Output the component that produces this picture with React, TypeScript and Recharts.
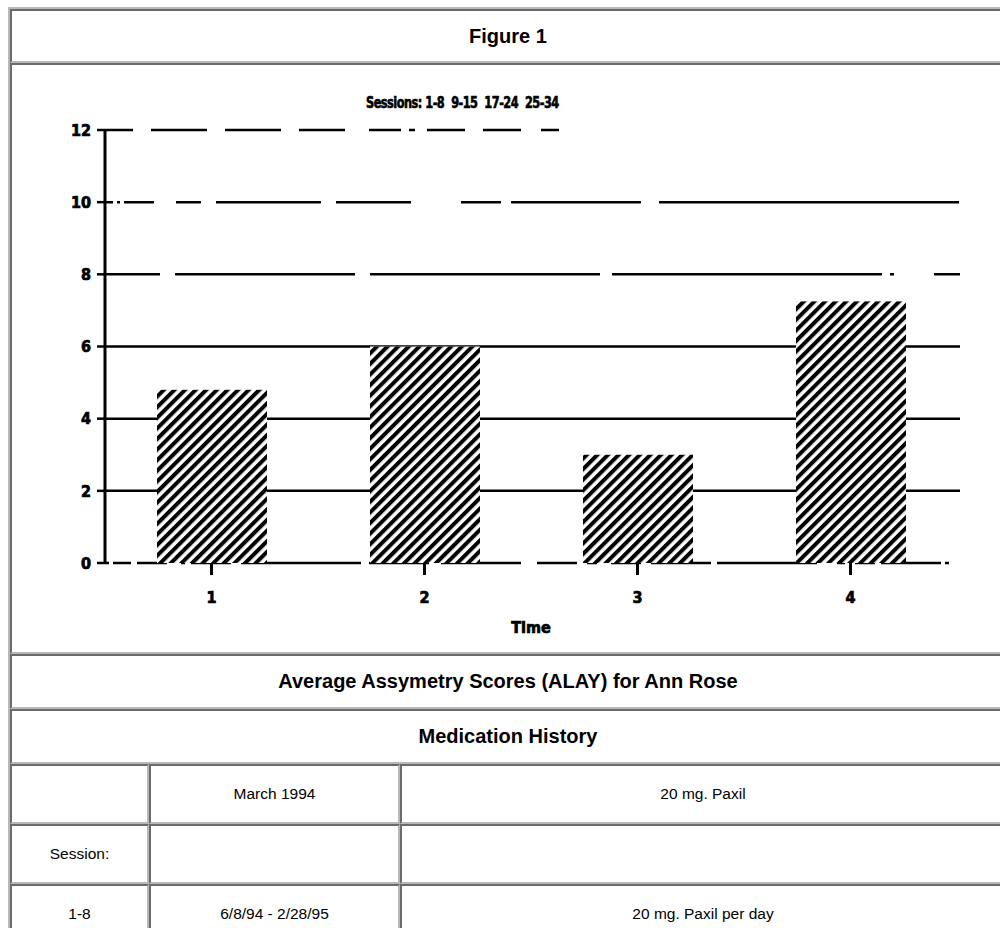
import React from 'react';
import { BarChart, Bar, XAxis, YAxis, CartesianGrid, Label } from 'recharts';

const times = ['1', '2', '3', '4'];
const scores = [4.8, 6.0, 3.0, 7.25];
const yTicks = [0, 2, 4, 6, 8, 10, 12];
const sessionsTitle = 'Sessions: 1-8  9-15  17-24  25-34';

const figureTitle = 'Figure 1';
const captionTitle = 'Average Assymetry Scores (ALAY) for Ann Rose';
const historyTitle = 'Medication History';
const historyRows = [
  ['', 'March 1994', '20 mg. Paxil'],
  ['Session:', '', ''],
  ['1-8', '6/8/94 - 2/28/95', '20 mg. Paxil per day'],
];

const data = times.map((t, i) => ({ time: t, score: scores[i] }));

// each grid line in the scan has its own broken dash look
const gridDash: Record<number, string | undefined> = {
  0: '4 4 18 6 30 14 4 6 40 10 120 8 60 12 80 16 40 10 10 14 30 10 60 6 100 20 8 10 20 6 60',
  2: undefined,
  4: undefined,
  6: undefined,
  8: '55 15 180 15 230 12 270 8 4 40 30',
  10: '8 4 3 4 30 22 25 15 105 15 75 50 40 10 130 18 300',
  12: '28 18 56 18 56 18 46 24 32 8 6 12 38 18 38 20 18 2000',
};

const font = "'DejaVu Sans Condensed', 'Liberation Sans Narrow', 'DejaVu Sans', sans-serif";
const htmlFont = "'Liberation Sans', Arial, sans-serif";
const dark = '#6b6b6b';
const light = '#b8b8b8';
const tickStyle = { fill: '#000', stroke: '#000', strokeWidth: 0.7, fontSize: 16, fontWeight: 900, fontFamily: font };

const GridLine = (props: any) => {
  const { x1, x2, y1, y, height, index } = props;
  const v = typeof y === 'number' && typeof height === 'number'
    ? Math.round((12 * (y + height - y1)) / height)
    : yTicks[index];
  return (
    <line
      x1={x1}
      x2={x2 + 3}
      y1={y1}
      y2={y1}
      stroke="#000"
      strokeWidth={2.5}
      strokeDasharray={gridDash[v]}
    />
  );
};

const HatchBar = (props: any) => {
  const { x, y, width, height } = props;
  return (
    <g>
      <rect x={x} y={y} width={width} height={height} fill="#fff" />
      <rect x={x} y={y} width={width} height={height} fill="url(#hatch)" />
    </g>
  );
};

const cell = (x: number, y: number, w: number, h: number): React.CSSProperties => ({
  position: 'absolute',
  left: x,
  top: y,
  width: w,
  height: h,
  boxSizing: 'border-box',
  borderTop: `2px solid ${dark}`,
  borderLeft: `2px solid ${dark}`,
  borderBottom: `2px solid ${light}`,
  borderRight: `2px solid ${light}`,
  display: 'flex',
  alignItems: 'center',
  justifyContent: 'center',
  fontFamily: htmlFont,
  color: '#000',
});

const heading: React.CSSProperties = { fontWeight: 'bold', fontSize: 20 };
const small: React.CSSProperties = { fontSize: 15.5 };

const colX = [10, 149, 400, 1006];
const rowTops = [764, 824, 884, 944];

export default function App() {
  return (
    <div style={{ position: 'absolute', left: 0, top: 0, width: 1000, height: 928, overflow: 'hidden', background: '#fff' }}>
      <div
        style={{
          position: 'absolute',
          left: 8,
          top: 7,
          width: 1000,
          height: 960,
          boxSizing: 'border-box',
          borderTop: `2px solid ${light}`,
          borderLeft: `2px solid ${light}`,
          borderBottom: `2px solid ${dark}`,
          borderRight: `2px solid ${dark}`,
        }}
      />
      <div style={cell(10, 9, 996, 54)}>
        <span style={heading}>{figureTitle}</span>
      </div>
      <div style={cell(10, 63, 996, 591)} />
      <div style={cell(10, 654, 996, 55)}>
        <span style={heading}>{captionTitle}</span>
      </div>
      <div style={cell(10, 709, 996, 55)}>
        <span style={heading}>{historyTitle}</span>
      </div>
      {historyRows.map((row, r) =>
        row.map((txt, c) => (
          <div key={`${r}-${c}`} style={cell(colX[c], rowTops[r], colX[c + 1] - colX[c], rowTops[r + 1] - rowTops[r])}>
            <span style={small}>{txt}</span>
          </div>
        ))
      )}

      <div
        style={{
          position: 'absolute',
          left: 366,
          top: 94,
          fontFamily: font,
          fontWeight: 900,
          fontSize: 15,
          letterSpacing: -0.6,
          whiteSpace: 'pre',
          color: '#000',
          WebkitTextStroke: '0.6px #000',
          transform: 'scaleX(0.84)',
          transformOrigin: 'left top',
        }}
      >
        {sessionsTitle}
      </div>

      <div style={{ position: 'absolute', left: 0, top: 63 }}>
        <BarChart
          width={1000}
          height={591}
          data={data}
          margin={{ top: 67, right: 43, left: 65, bottom: 21 }}
        >
          <defs>
            <pattern id="hatch" patternUnits="userSpaceOnUse" width="7.5" height="7.5" patternTransform="rotate(45)">
              <rect x="0" y="0" width="4" height="7.5" fill="#000" />
            </pattern>
          </defs>
          <CartesianGrid vertical={false} horizontal={GridLine} syncWithTicks />
          <XAxis
            dataKey="time"
            axisLine={false}
            tickLine={{ stroke: '#000', strokeWidth: 3 }}
            tickSize={12}
            tickMargin={17}
            height={70}
            tick={tickStyle}
          >
            <Label value="Time" position="insideBottom" offset={0} style={tickStyle} />
          </XAxis>
          <YAxis
            domain={[0, 12]}
            ticks={yTicks}
            interval={0}
            width={40}
            axisLine={{ stroke: '#000', strokeWidth: 3 }}
            tickLine={{ stroke: '#000', strokeWidth: 2.5 }}
            tickSize={8}
            tickMargin={6}
            tick={tickStyle}
          />
          <Bar dataKey="score" barSize={110} shape={HatchBar} isAnimationActive={false} />
        </BarChart>
      </div>
    </div>
  );
}
